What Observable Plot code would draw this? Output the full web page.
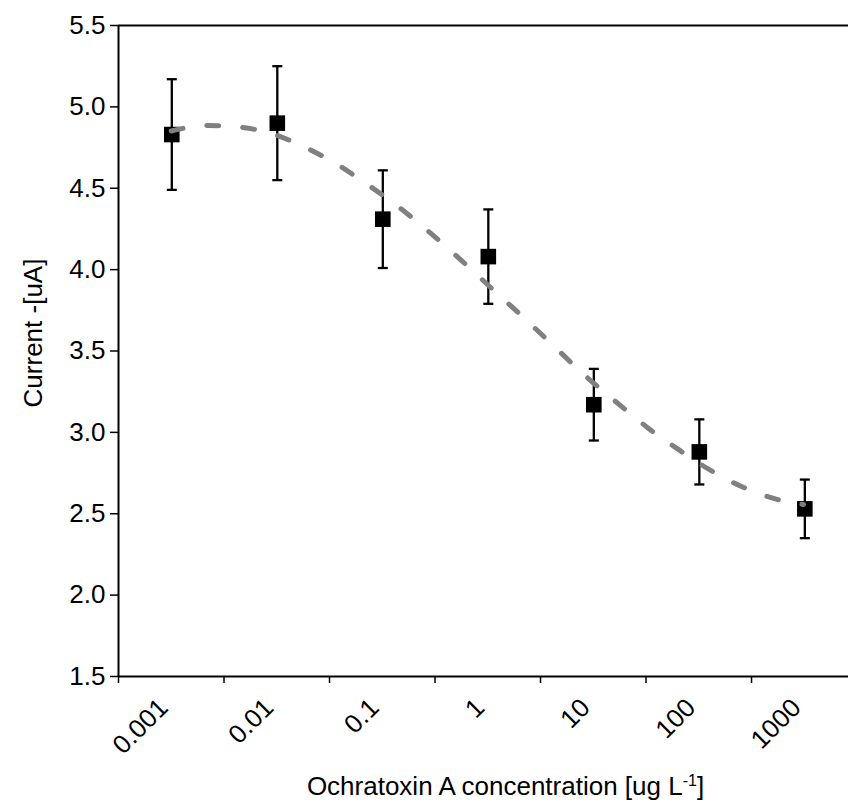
<!DOCTYPE html>
<html>
<head>
<meta charset="utf-8">
<script src="https://cdn.jsdelivr.net/npm/d3@7"></script>
<script src="https://cdn.jsdelivr.net/npm/@observablehq/plot@0.6"></script>
<style>
  html, body { margin: 0; padding: 0; background: #ffffff; }
  #chart svg { display: block; }
</style>
</head>
<body>
<div id="chart"></div>
<script>
// Measured points (mean ± error)
const concentration = [0.0032, 0.032, 0.32, 3.2, 32, 320, 3200];
const current = [4.83, 4.90, 4.31, 4.08, 3.17, 2.88, 2.53];
const errorBar = [0.34, 0.35, 0.30, 0.29, 0.22, 0.20, 0.18];

// Fitted curve
const fitX = [0.00316, 0.00698, 0.0143, 0.0286, 0.0563, 0.113, 0.224, 0.454, 0.906, 1.81, 3.56, 6.95, 13.4, 25.7, 52.5, 105, 209, 418, 834, 1679, 3112];
const fitY = [4.852, 4.886, 4.875, 4.835, 4.757, 4.654, 4.527, 4.384, 4.224, 4.052, 3.876, 3.704, 3.530, 3.356, 3.185, 3.026, 2.889, 2.763, 2.663, 2.591, 2.557];

// Axes
const xTicks = [0.001, 0.01, 0.1, 1, 10, 100, 1000];
const xTickLabels = ["0.001", "0.01", "0.1", "1", "10", "100", "1000"];
const yTicks = [1.5, 2.0, 2.5, 3.0, 3.5, 4.0, 4.5, 5.0, 5.5];
const xTitle = "Ochratoxin A concentration [ug L-1]";
const yTitle = "Current -[uA]";

const points = concentration.map((c, i) => ({c, v: current[i], lo: current[i] - errorBar[i], hi: current[i] + errorBar[i]}));
const fit = fitX.map((x, i) => ({x, y: fitY[i]}));
const xLabelData = xTicks.map((t, i) => ({t, label: xTickLabels[i]}));

const capSymbol = {
  draw(context, size) {
    const r = Math.sqrt(size / Math.PI);
    context.moveTo(-r, 0);
    context.lineTo(r, 0);
  }
};

const chart = Plot.plot({
  width: 848,
  height: 805,
  marginTop: 25,
  marginBottom: 129,
  marginLeft: 118,
  marginRight: 0,
  x: {type: "log", domain: [0.001, 8300]},
  y: {domain: [1.5, 5.5]},
  style: {
    fontFamily: "'Liberation Sans', Arial, Helvetica, sans-serif",
    fontSize: "26px",
    background: "#ffffff",
    color: "#000000",
    overflow: "visible"
  },
  marks: [
    Plot.axisY({ticks: yTicks, tickSize: 8, tickPadding: 5, tickFormat: d3.format(".1f"), label: null, strokeWidth: 1.5}),
    Plot.axisX({ticks: xTicks, tickSize: 7, tickFormat: () => "", label: null, strokeWidth: 1.5}),
    Plot.text(xLabelData, {x: "t", text: "label", frameAnchor: "bottom", rotate: -45, textAnchor: "end", lineAnchor: "middle", dx: 45, dy: 27, fill: "#000"}),
    Plot.text([xTitle], {frameAnchor: "bottom", text: d => d, textAnchor: "middle", lineAnchor: "middle", dx: 22, dy: 110, fill: "#000"}),
    Plot.text([yTitle], {frameAnchor: "left", text: d => d, rotate: -90, textAnchor: "middle", lineAnchor: "middle", dx: -85, dy: -18, fill: "#000"}),
    Plot.ruleY([5.5], {stroke: "#000", strokeWidth: 2}),
    Plot.ruleY([1.5], {stroke: "#000", strokeWidth: 2}),
    Plot.ruleX([0.001], {stroke: "#000", strokeWidth: 2}),
    Plot.ruleX(points, {x: "c", y1: "lo", y2: "hi", stroke: "#000", strokeWidth: 2.3}),
    Plot.dot(points, {x: "c", y: "lo", symbol: capSymbol, r: 5, stroke: "#000", strokeWidth: 2.3, fill: "none"}),
    Plot.dot(points, {x: "c", y: "hi", symbol: capSymbol, r: 5, stroke: "#000", strokeWidth: 2.3, fill: "none"}),
    Plot.dot(points, {x: "c", y: "v", symbol: "square", r: 8.8, fill: "#000", stroke: "none"}),
    Plot.line(fit, {x: "x", y: "y", curve: "monotone-x", stroke: "#808080", strokeWidth: 5, strokeDasharray: "12,24"})
  ]
});

document.getElementById("chart").appendChild(chart);

// Render the "-1" of the unit as a superscript
d3.select(chart).selectAll("text").each(function () {
  const el = d3.select(this);
  if (el.text() === xTitle) {
    el.text("");
    el.append("tspan").text("Ochratoxin A concentration [ug L");
    el.append("tspan").attr("dy", "-9").attr("font-size", "16px").text("-1");
    el.append("tspan").attr("dy", "9").text("]");
  }
});
</script>
</body>
</html>
